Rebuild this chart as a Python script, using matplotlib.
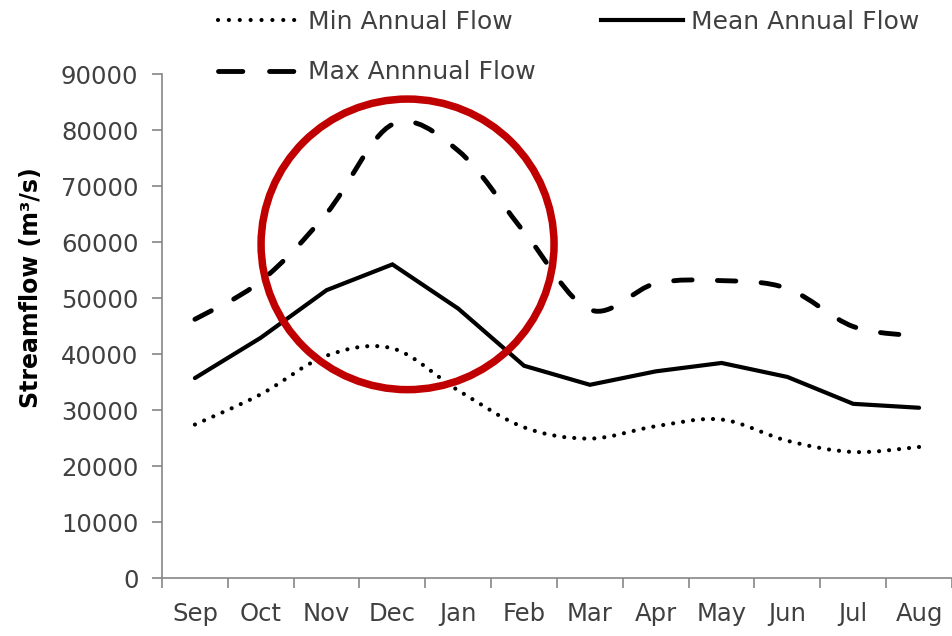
import matplotlib
matplotlib.use("Agg")
import matplotlib.pyplot as plt
import numpy as np
from matplotlib.path import Path
from matplotlib.patches import PathPatch, Ellipse
from matplotlib.lines import Line2D

months = ["Sep", "Oct", "Nov", "Dec", "Jan", "Feb", "Mar", "Apr", "May", "Jun", "Jul", "Aug"]
min_flow = [27400, 32800, 39700, 41000, 33500, 26900, 24900, 27100, 28300, 24500, 22500, 23400]
mean_flow = [35700, 42900, 51400, 56000, 48100, 37900, 34500, 36900, 38400, 35900, 31100, 30400]
max_flow = [46200, 53000, 65100, 81000, 76300, 61800, 47900, 52600, 53100, 51700, 44900, 43200]
y_ticks = [0, 10000, 20000, 30000, 40000, 50000, 60000, 70000, 80000, 90000]


def smooth_path(xs, ys):
    pts = np.column_stack([xs, ys]).astype(float)
    n = len(pts)
    verts = [pts[0]]
    codes = [Path.MOVETO]
    for i in range(n - 1):
        p0 = pts[i - 1] if i > 0 else pts[i]
        p1 = pts[i]
        p2 = pts[i + 1]
        p3 = pts[i + 2] if i + 2 < n else pts[i + 1]
        c1 = p1 + (p2 - p0) / 6.0
        c2 = p2 - (p3 - p1) / 6.0
        verts += [c1, c2, p2]
        codes += [Path.CURVE4] * 3
    return Path(verts, codes)


fig = plt.figure(figsize=(9.53, 6.36), dpi=100)
ax = fig.add_axes([162 / 953, 58 / 636, 790 / 953, 504 / 636])

x = np.arange(len(months))
tick_col = "#404040"
spine_col = "#868686"

# Min (smoothed, dotted)
ax.add_patch(PathPatch(smooth_path(x, min_flow), fill=False, edgecolor="black",
                       linewidth=3.0, linestyle=(0, (0.01, 2.4)), capstyle="round"))
# Mean (straight, solid)
ax.plot(x, mean_flow, color="black", linewidth=3.0, solid_joinstyle="miter",
        solid_capstyle="round")
# Max (smoothed, dashed)
ax.add_patch(PathPatch(smooth_path(x, max_flow), fill=False, edgecolor="black",
                       linewidth=3.5, linestyle=(0, (3.8, 5.2)), capstyle="round"))

# red circle highlight
ax.add_patch(Ellipse((3.23, 59580), 4.45, 51890, fill=False, edgecolor="#C00000",
                     linewidth=5.4, clip_on=False, zorder=5))

ax.set_xlim(-0.5, len(months) - 0.5)
ax.set_ylim(0, 90000)
ax.set_yticks(y_ticks)
ax.set_yticklabels([str(v) for v in y_ticks])
ax.set_xticks(np.arange(len(months) + 1) - 0.5)
ax.set_xticklabels([])
ax.set_xticks(x, minor=True)
ax.set_xticklabels(months, minor=True)

for s in ["top", "right"]:
    ax.spines[s].set_visible(False)
for s in ["left", "bottom"]:
    ax.spines[s].set_color(spine_col)
    ax.spines[s].set_linewidth(1.2)

ax.tick_params(axis="y", which="major", direction="out", length=7, width=1.2,
               color=spine_col, labelcolor=tick_col, labelsize=17.5, pad=10)
ax.tick_params(axis="x", which="major", direction="out", length=7, width=1.2,
               color=spine_col)
ax.tick_params(axis="x", which="minor", length=0, labelcolor=tick_col,
               labelsize=17.5, pad=17)

ax.set_ylabel("Streamflow (m³/s)", fontsize=17, fontweight="bold", color="black")
ax.yaxis.set_label_coords(-0.15, 0.577)

handles = [
    Line2D([], [], color="black", linewidth=3.0, linestyle=(0, (0.01, 2.6)),
           dash_capstyle="round"),
    Line2D([], [], color="black", linewidth=3.5, linestyle=(0, (5.0, 5.5)),
           dash_capstyle="round"),
    Line2D([], [], color="black", linewidth=3.0),
]
labels = ["Min Annual Flow", "Max Annnual Flow", "Mean Annual Flow"]
leg = fig.legend(handles, labels, ncol=2, loc="upper left",
                 bbox_to_anchor=(218 / 953, 1 - 10 / 636), bbox_transform=fig.transFigure,
                 frameon=False, fontsize=18, handlelength=3.3, handletextpad=0.3,
                 columnspacing=2.6, labelspacing=1.05, borderpad=0, borderaxespad=0)
for t in leg.get_texts():
    t.set_color(tick_col)

fig.savefig("out.png", dpi=100)
